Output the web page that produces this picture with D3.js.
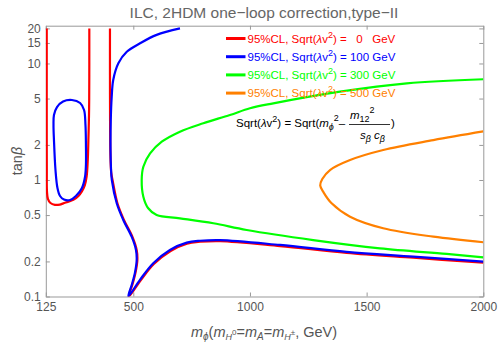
<!DOCTYPE html>
<html>
<head>
<meta charset="utf-8">
<script src="https://cdn.jsdelivr.net/npm/d3@7/dist/d3.min.js"></script>
<style>
body{margin:0;background:#fff;}
svg{font-family:"Liberation Sans",Arial,sans-serif;}
.tick text{fill:#555;font-size:12px;}
.tick line{stroke:#999;}
.domain{stroke:#999;}
.title{fill:#666;font-size:15.5px;}
.label{fill:#555;font-size:14.5px;}
</style>
</head>
<body>
<svg id="graph"></svg>
<script>
// curves: [m_phi (GeV), tan beta]
var redLeft=[[129,20],[129,8],[129,3],[129.3,1.2],[130,0.8],[134,0.69],[145,0.635],[164,0.612],[185,0.615],[200,0.63],[225,0.655],[243,0.675],[265,0.73],[279,0.794],[292,0.9],[300,1.067],[305,1.5],[307.5,2.2],[310,3.5],[311,5],[311.5,10],[311.5,20]]
var redMid=[[400,20],[400,8],[400.5,3],[402,1.6],[405.5,1.15],[411,1],[432,0.631],[460,0.454],[496,0.326],[514.5,0.251],[517.5,0.206],[510,0.162],[497,0.128],[481,0.1],[531,0.137],[588,0.19],[660,0.246],[730,0.284],[786,0.295],[872,0.299],[1129,0.271],[1414,0.237],[1700,0.215],[2000,0.195]]
var blueLoop=[[237,4.86],[272,4.58],[289,3.99],[295,2.97],[297,2.0],[297,1.345],[293,1.06],[280,0.854],[254,0.729],[229,0.673],[203,0.68],[186,0.729],[175,0.854],[166.5,1.218],[160,2.2],[158,2.97],[160,3.61],[173,4.23],[199,4.72]]
var blueMid=[[700,20],[600,17.6],[529,14.9],[472,12.6],[436,10.04],[414,7.22],[407.5,5.19],[403.5,3.27],[402.5,1.81],[404.5,1.25],[408,1],[429,0.631],[457,0.454],[493,0.326],[511.5,0.251],[514.5,0.206],[507.5,0.162],[494.5,0.128],[478.5,0.1],[528.5,0.139],[585.5,0.193],[657,0.251],[729,0.29],[786,0.301],[872,0.305],[1129,0.277],[1414,0.242],[1700,0.22],[2000,0.199]]
var green=[[2000,7.32],[1672,6.76],[1386,5.73],[1100,4.55],[1000,4.13],[914,3.61],[800,3.07],[700,2.6],[622,2.13],[572,1.69],[543,1.3],[536,1],[543,0.719],[564,0.572],[600,0.5],[700,0.469],[843,0.425],[986,0.372],[1271,0.305],[1557,0.259],[1843,0.232],[2000,0.217]]
var orange=[[2000,2.61],[1786,2.2],[1571,1.81],[1429,1.485],[1343,1.218],[1310,1.02],[1301,0.9],[1316,0.78],[1350,0.631],[1429,0.484],[1571,0.385],[1786,0.326],[2000,0.292]]

var xTicks=[125,500,1000,1500,2000]
var yTicks=[0.1,0.2,0.5,1,2,5,10,15,20]
var legendValues=["  0  ","100","300","500"]
var legendColors=["#ff0000","#0000ff","#00ff00","#ff8000"]

var screen={width:498,height:344}
var margins={left:45.8,right:14.7,top:25.7,bottom:47.5}
var graph=
    {
        width:screen.width-margins.left-margins.right,
        height:screen.height-margins.top-margins.bottom
    }

var initGraph=function()
    {
        var svg=d3.select("#graph")
            .attr("width",screen.width)
            .attr("height",screen.height)
        var target=svg.append("g")
            .attr("transform","translate("+margins.left+","+margins.top+")")
        target.append("clipPath")
            .attr("id","clip")
            .append("rect")
            .attr("width",graph.width)
            .attr("height",graph.height)
        var xScale=d3.scaleLinear()
            .domain([125,2000])
            .range([0,graph.width])
        var yScale=d3.scaleLog()
            .domain([0.1,21.1])
            .range([graph.height,0])

        drawAxes(target,xScale,yScale)
        drawCurves(target,xScale,yScale)
        drawLegend(target)
        drawLabels(svg)
    }

var drawCurves=function(target,xScale,yScale)
    {
        var g=target.append("g").attr("clip-path","url(#clip)")
        var line=d3.line()
            .x(function(d){return xScale(d[0])})
            .y(function(d){return yScale(d[1])})
            .curve(d3.curveCatmullRom)
        var loop=d3.line()
            .x(function(d){return xScale(d[0])})
            .y(function(d){return yScale(d[1])})
            .curve(d3.curveCatmullRomClosed)
        var curves=[
            {d:redLeft,c:legendColors[0],f:line},
            {d:redMid,c:legendColors[0],f:line},
            {d:blueLoop,c:legendColors[1],f:loop},
            {d:blueMid,c:legendColors[1],f:line},
            {d:green,c:legendColors[2],f:line},
            {d:orange,c:legendColors[3],f:line}]
        curves.forEach(function(k)
            {
                g.append("path")
                    .attr("d",k.f(k.d))
                    .attr("fill","none")
                    .attr("stroke",k.c)
                    .attr("stroke-width",2.2)
            })
    }

var drawAxes=function(target,xScale,yScale)
    {
        target.append("g")
            .attr("transform","translate(0,"+graph.height+")")
            .call(d3.axisBottom(xScale).tickValues(xTicks).tickSizeInner(-4).tickSizeOuter(0).tickPadding(6)
                .tickFormat(d3.format("d")))
        target.append("g")
            .call(d3.axisTop(xScale).tickValues(xTicks).tickSizeInner(-4).tickSizeOuter(0).tickFormat(""))
        target.append("g")
            .call(d3.axisLeft(yScale).tickValues(yTicks).tickSizeInner(-4).tickSizeOuter(0).tickPadding(5)
                .tickFormat(function(d){return d+""}))
        target.append("g")
            .attr("transform","translate("+graph.width+",0)")
            .call(d3.axisRight(yScale).tickValues(yTicks).tickSizeInner(-4).tickSizeOuter(0).tickFormat(""))
    }

var drawLegend=function(target)
    {
        var leg=target.append("g")
            .attr("transform","translate("+(-margins.left)+","+(-margins.top)+")")
        legendValues.forEach(function(v,i)
            {
                var yy=38.5+i*18.2
                leg.append("line")
                    .attr("x1",226).attr("x2",245.5)
                    .attr("y1",yy).attr("y2",yy)
                    .attr("stroke",legendColors[i])
                    .attr("stroke-width",3)
                var t=leg.append("text")
                    .attr("x",247.5).attr("y",yy+4)
                    .attr("fill",legendColors[i])
                    .style("font-size","11.5px")
                    .style("white-space","pre")
                t.append("tspan").text("95%CL, Sqrt(")
                t.append("tspan").text("λ").style("font-style","italic")
                t.append("tspan").text("v")
                t.append("tspan").text("2").attr("dy",-5).style("font-size","9px")
                t.append("tspan").text(") = "+v+" GeV").attr("dy",5)
            })
        var f=leg.append("text")
            .attr("x",236).attr("y",127)
            .attr("fill","#000")
            .style("font-size","11.5px")
        f.append("tspan").text("Sqrt(")
        f.append("tspan").text("λ").style("font-style","italic")
        f.append("tspan").text("v")
        f.append("tspan").text("2").attr("dy",-5).style("font-size","9px")
        f.append("tspan").text(") = Sqrt(").attr("dy",5)
        f.append("tspan").text("m").style("font-style","italic")
        f.append("tspan").text("ϕ").style("font-style","italic").style("font-size","9px").attr("dy",3)
        f.append("tspan").text("2").style("font-size","9px").attr("dy",-9)
        f.append("tspan").text("–").attr("dy",6)
        var n=leg.append("text").attr("x",350).attr("y",119).style("font-size","11.5px")
        n.append("tspan").text("m").style("font-style","italic")
        n.append("tspan").text("12").style("font-size","9px").attr("dy",3)
        n.append("tspan").text("2").style("font-size","9px").attr("dy",-9)
        leg.append("line")
            .attr("x1",349).attr("x2",390)
            .attr("y1",124.5).attr("y2",124.5)
            .attr("stroke","#000").attr("stroke-width",0.8)
        var dn=leg.append("text").attr("x",360).attr("y",139).style("font-size","11.5px")
        dn.append("tspan").text("s").style("font-style","italic")
        dn.append("tspan").text("β").style("font-style","italic").style("font-size","9px").attr("dy",3)
        dn.append("tspan").text(" c").style("font-style","italic").attr("dy",-3)
        dn.append("tspan").text("β").style("font-style","italic").style("font-size","9px").attr("dy",3)
        leg.append("text").attr("x",391).attr("y",127).style("font-size","11.5px").text(")")
    }

var drawLabels=function(svg)
    {
        svg.append("text")
            .classed("title",true)
            .attr("text-anchor","middle")
            .attr("x",264).attr("y",18)
            .text("ILC, 2HDM one\u2212loop correction,type\u2212II")
        var yl=svg.append("text")
            .classed("label",true)
            .attr("text-anchor","middle")
            .attr("transform","translate(22,161) rotate(-90)")
        yl.append("tspan").text("tan")
        yl.append("tspan").text("β").style("font-style","italic")
        var xl=svg.append("text")
            .classed("label",true)
            .attr("text-anchor","middle")
            .attr("x",264).attr("y",337)
        xl.append("tspan").text("m").style("font-style","italic")
        xl.append("tspan").text("ϕ").style("font-style","italic").style("font-size","10px").attr("dy",3)
        xl.append("tspan").text("(").attr("dy",-3)
        xl.append("tspan").text("m").style("font-style","italic")
        xl.append("tspan").text("H").style("font-style","italic").style("font-size","9px").attr("dy",3)
        xl.append("tspan").text("0").style("font-size","8px").attr("dy",-5)
        xl.append("tspan").text("=").attr("dy",2)
        xl.append("tspan").text("m").style("font-style","italic")
        xl.append("tspan").text("A").style("font-style","italic").style("font-size","10px").attr("dy",3)
        xl.append("tspan").text("=").attr("dy",-3)
        xl.append("tspan").text("m").style("font-style","italic")
        xl.append("tspan").text("H").style("font-style","italic").style("font-size","9px").attr("dy",3)
        xl.append("tspan").text("±").style("font-size","8px").attr("dy",-5)
        xl.append("tspan").text(", GeV)").attr("dy",2)
    }

initGraph()
</script>
</body>
</html>
